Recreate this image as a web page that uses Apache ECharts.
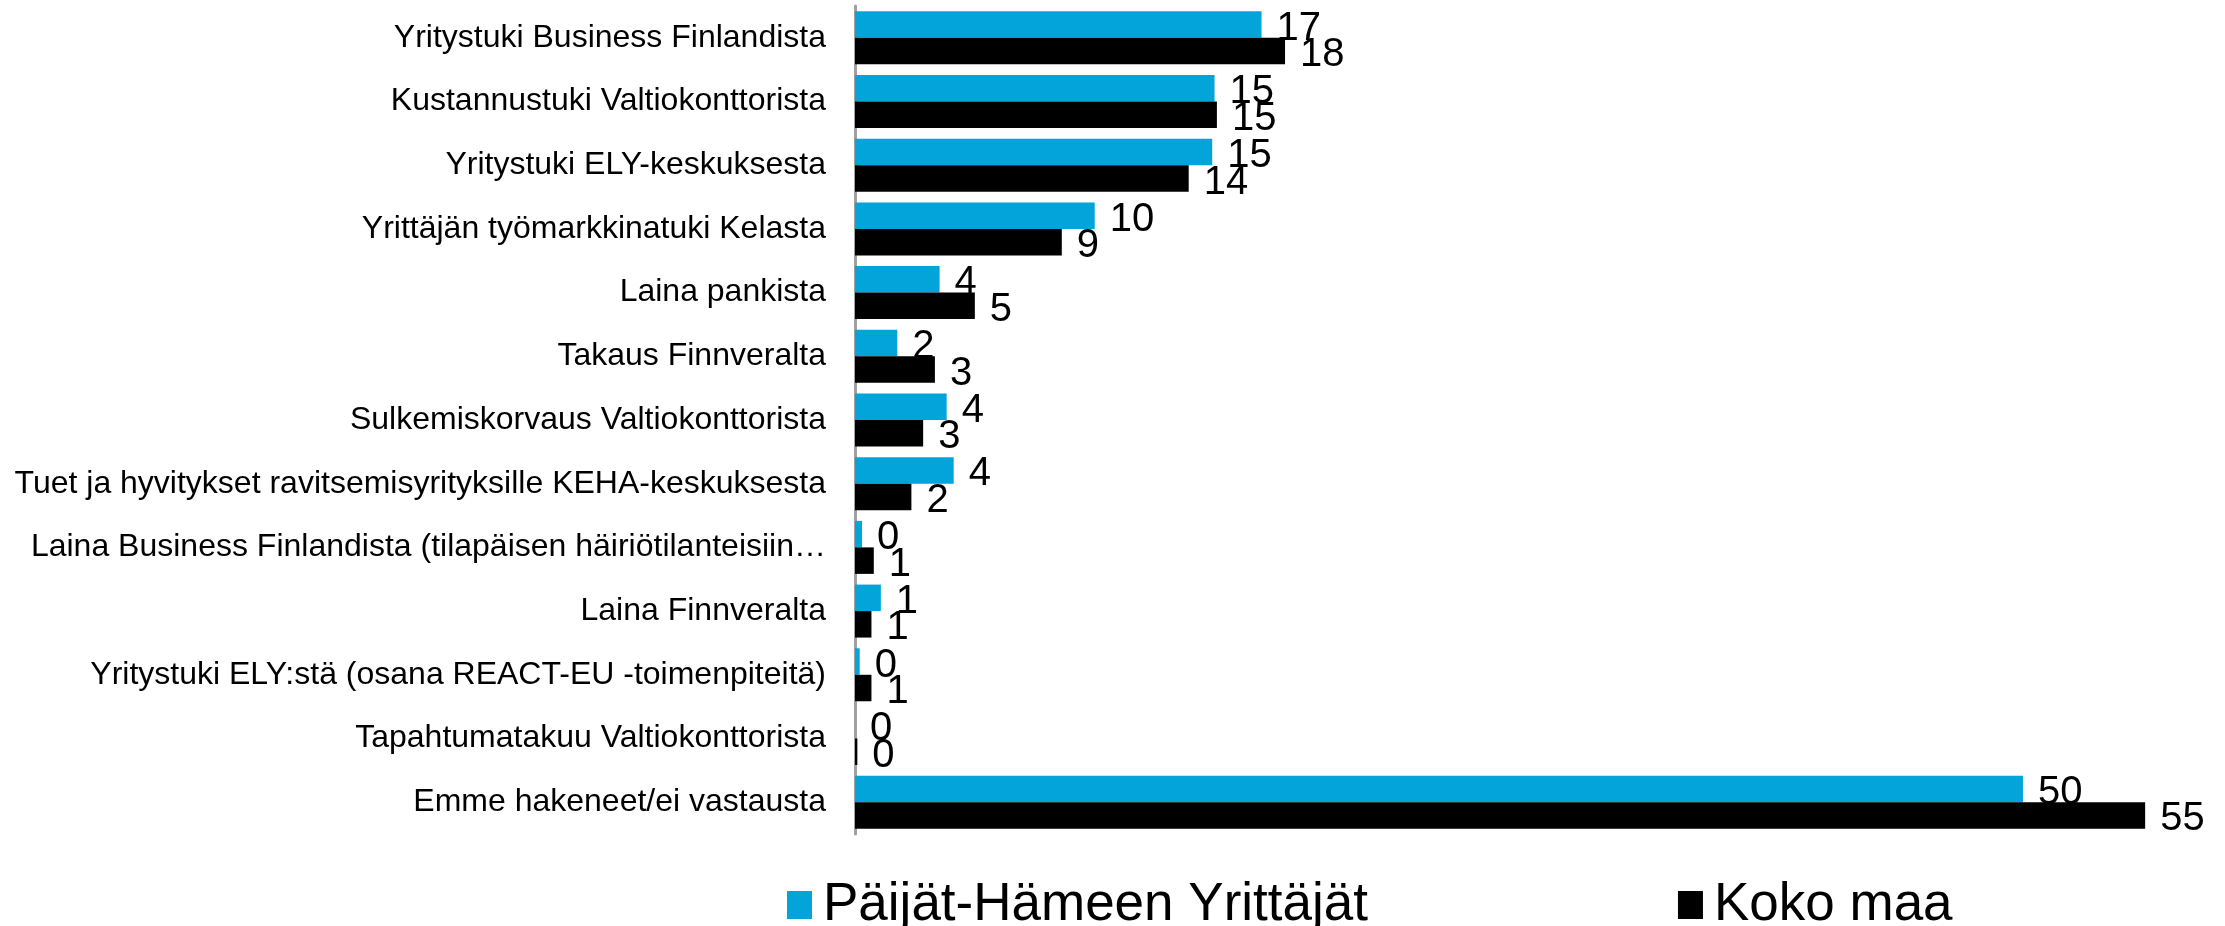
<!DOCTYPE html>
<html>
<head>
<meta charset="utf-8">
<script src="https://cdn.jsdelivr.net/npm/echarts@6/dist/echarts.min.js"></script>
<style>
    html, body { margin: 0; padding: 0; background: #fff; }
    #chart { width: 2225px; height: 926px; }
</style>
</head>
<body>
<div id="chart"></div>
<script>
    // kategoriat ylhäältä alas
    var categories = [
        'Yritystuki Business Finlandista',
        'Kustannustuki Valtiokonttorista',
        'Yritystuki ELY-keskuksesta',
        'Yrittäjän työmarkkinatuki Kelasta',
        'Laina pankista',
        'Takaus Finnveralta',
        'Sulkemiskorvaus Valtiokonttorista',
        'Tuet ja hyvitykset ravitsemisyrityksille KEHA-keskuksesta',
        'Laina Business Finlandista (tilapäisen häiriötilanteisiin…',
        'Laina Finnveralta',
        'Yritystuki ELY:stä (osana REACT-EU -toimenpiteitä)',
        'Tapahtumatakuu Valtiokonttorista',
        'Emme hakeneet/ei vastausta'
    ];
    var seriesNames = ['Päijät-Hämeen Yrittäjät', 'Koko maa'];
    var paijatHame = [17.3, 15.3, 15.2, 10.2, 3.6, 1.8, 3.9, 4.2, 0.3, 1.1, 0.2, 0, 49.7];
    var kokoMaa = [18.3, 15.4, 14.2, 8.8, 5.1, 3.4, 2.9, 2.4, 0.8, 0.7, 0.7, 0.1, 54.9];
    var colors = ['#02A4D9', '#000000'];

    var font = '"Liberation Sans", Arial, sans-serif';

    var chart = echarts.init(document.getElementById('chart'), null, {renderer: 'canvas'});

    function makeSeries(name, data, color) {
        return {
            name: name,
            type: 'bar',
            data: data,
            barGap: '0%',
            barCategoryGap: '16.8%',
            itemStyle: { color: color },
            label: {
                show: true,
                position: 'right',
                distance: 15,
                offset: [0, 4],
                color: '#000',
                fontFamily: font,
                fontSize: 40,
                formatter: function (p) { return Math.round(p.value); }
            },
            emphasis: { disabled: true },
            animation: false
        };
    }

    var option = {
        animation: false,
        grid: {
            left: 855,
            top: 6,
            width: 58 * 23.5,
            height: 828,
            containLabel: false
        },
        legend: {
            data: seriesNames,
            left: 782,
            top: 873,
            itemGap: 310,
            itemWidth: 25,
            itemHeight: 28,
            icon: 'rect',
            textStyle: {
                fontFamily: font,
                fontSize: 53,
                lineHeight: 54,
                color: '#000',
                padding: [0, 0, 0, 6]
            }
        },
        xAxis: {
            type: 'value',
            min: 0,
            max: 58,
            show: false
        },
        yAxis: {
            type: 'category',
            data: categories,
            inverse: true,
            axisLine: { show: true, lineStyle: { color: '#A0A0A0', width: 3 } },
            axisTick: { show: false },
            axisLabel: {
                margin: 29,
                color: '#000',
                fontFamily: font,
                fontSize: 32
            }
        },
        series: [
            makeSeries(seriesNames[0], paijatHame, colors[0]),
            makeSeries(seriesNames[1], kokoMaa, colors[1])
        ]
    };
    chart.setOption(option);
</script>
</body>
</html>
